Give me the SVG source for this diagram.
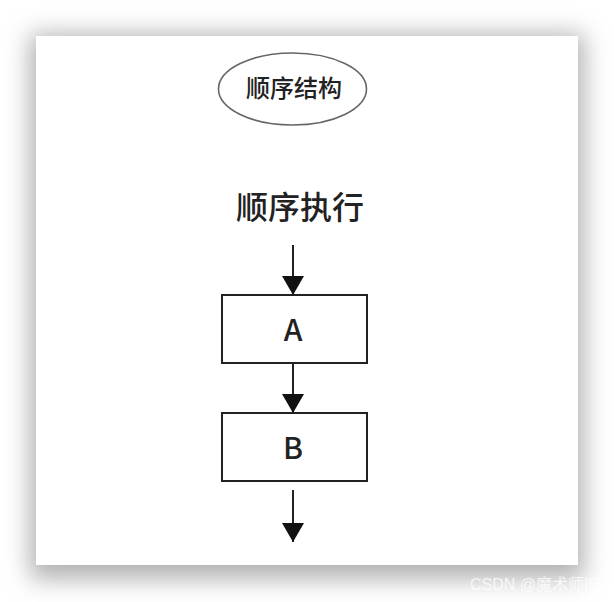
<svg xmlns="http://www.w3.org/2000/svg" width="614" height="602" viewBox="0 0 614 602">
<style>
.box{fill:#fff;stroke:#222;stroke-width:2}
.lbl{font-family:"Noto Sans CJK SC","Liberation Sans",sans-serif;fill:#222;text-anchor:middle;font-weight:500}
.conn{stroke:#222;stroke-width:2;fill:none;marker-end:url(#ah)}
</style>
<defs>
<filter id="sh" x="-20%" y="-20%" width="140%" height="140%">
<feGaussianBlur stdDeviation="12"/>
</filter>
<marker id="ah" markerUnits="userSpaceOnUse" markerWidth="20" markerHeight="24" refX="19" refY="11" orient="auto">
<path d="M0,0 L19,11 L0,22 Z" fill="#111"/>
</marker>
</defs>
<rect width="614" height="602" fill="#fff"/>
<rect x="30" y="34" width="554" height="545" fill="#b0b0b0" filter="url(#sh)"/>
<rect x="36" y="36" width="542" height="529" fill="#fff"/>
<g id="title">
<ellipse cx="292.5" cy="89" rx="74" ry="36" fill="#fff" stroke="#666" stroke-width="1.6"/>
<text class="lbl" x="294" y="97" font-size="24">顺序结构</text>
</g>
<g id="start">
<text class="lbl" x="300" y="219" font-size="32">顺序执行</text>
</g>
<g id="nodeA">
<rect class="box" x="222" y="295" width="145" height="68"/>
<text class="lbl" x="293" y="341" font-size="30">A</text>
</g>
<g id="nodeB">
<rect class="box" x="222" y="413" width="145" height="68"/>
<text class="lbl" x="293" y="459" font-size="30">B</text>
</g>
<g id="connectors">
<line class="conn" x1="293" y1="245" x2="293" y2="295"/>
<line class="conn" x1="293" y1="363" x2="293" y2="413"/>
<line class="conn" x1="293" y1="490" x2="293" y2="542"/>
</g>
<text x="470" y="590" font-size="16" font-family="Liberation Sans, Noto Sans CJK SC, sans-serif" fill="#fff" fill-opacity="0.75">CSDN @魔术师ID</text>
</svg>
